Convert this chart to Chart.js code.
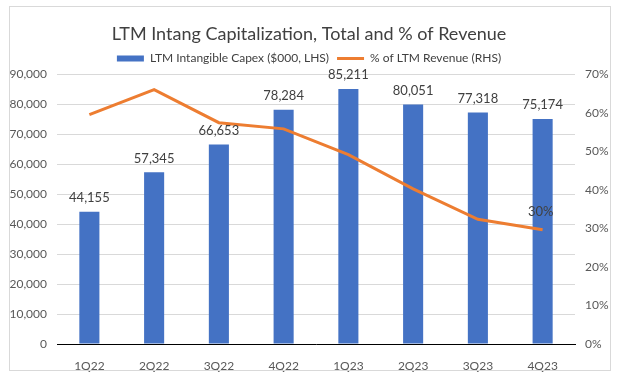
<!DOCTYPE html>
<html>
<head>
<meta charset="utf-8">
<script src="https://cdn.jsdelivr.net/npm/chart.js@4/dist/chart.umd.min.js"></script>
<style>
  html,body{margin:0;padding:0;background:#fff;}
  #c{position:absolute;left:0;top:0;}
  #frame{position:absolute;left:9px;top:6px;width:602px;height:365px;border:1px solid #d9d9d9;box-sizing:border-box;pointer-events:none;}
</style>
</head>
<body>
<canvas id="c" width="618" height="376"></canvas>
<div id="frame"></div>
<script>
const categories = ['1Q22','2Q22','3Q22','4Q22','1Q23','2Q23','3Q23','4Q23'];
const capexValues = [44155, 57345, 66653, 78284, 85211, 80051, 77318, 75174];
const pctRevenue = [0.596, 0.661, 0.575, 0.559, 0.492, 0.403, 0.324, 0.297];
const leftTicks = [0, 10000, 20000, 30000, 40000, 50000, 60000, 70000, 80000, 90000];
const rightTicks = [0, 0.1, 0.2, 0.3, 0.4, 0.5, 0.6, 0.7];
const seriesNames = ['LTM Intangible Capex ($000, LHS)', '% of LTM Revenue (RHS)'];

const FONT = 'Lato, "Liberation Sans", sans-serif';
const BLUE = '#4472c4';
const ORANGE = '#ed7d31';
const TEXT = '#404040';
const fmt = v => v.toLocaleString('en-US');
const pct = v => Math.round(v * 100) + '%';

const labelPlugin = {
  id: 'valueLabels',
  afterDatasetsDraw(chart) {
    const ctx = chart.ctx;
    ctx.save();
    ctx.font = '13px ' + FONT;
    ctx.fillStyle = TEXT;
    ctx.textAlign = 'center';
    ctx.textBaseline = 'middle';
    chart.getDatasetMeta(0).data.forEach((el, i) => {
      ctx.fillText(fmt(capexValues[i]), el.x, el.y - 14);
    });
    const lineMeta = chart.getDatasetMeta(1);
    const last = lineMeta.data.length - 1;
    const p = lineMeta.data[last];
    ctx.fillText(pct(pctRevenue[last]), p.x - 2, p.y - 18);
    ctx.restore();
  }
};

new Chart(document.getElementById('c'), {
  type: 'bar',
  data: {
    labels: categories,
    datasets: [
      {
        label: seriesNames[0],
        data: capexValues,
        backgroundColor: BLUE,
        borderWidth: 0,
        yAxisID: 'y',
        order: 2,
        barPercentage: 0.31,
        categoryPercentage: 1.0
      },
      {
        type: 'line',
        label: seriesNames[1],
        data: pctRevenue,
        borderColor: ORANGE,
        backgroundColor: ORANGE,
        borderWidth: 3,
        pointRadius: 0,
        tension: 0,
        yAxisID: 'y1',
        order: 1
      }
    ]
  },
  options: {
    responsive: false,
    animation: false,
    devicePixelRatio: 1,
    layout: { padding: 0 },
    plugins: {
      title: {
        display: true,
        text: 'LTM Intang Capitalization, Total and % of Revenue',
        color: TEXT,
        font: { family: FONT, size: 18, weight: 'normal' },
        padding: { top: 23, bottom: 0 }
      },
      legend: {
        display: true,
        position: 'top',
        labels: {
          color: TEXT,
          font: { family: FONT, size: 12 },
          usePointStyle: true,
          pointStyleWidth: 27,
          boxHeight: 6,
          padding: 8,
          generateLabels: () => [
            { text: seriesNames[0], fillStyle: BLUE, strokeStyle: BLUE, lineWidth: 0, pointStyle: 'rect', datasetIndex: 0, hidden: false, fontColor: TEXT },
            { text: seriesNames[1], fillStyle: ORANGE, strokeStyle: ORANGE, lineWidth: 3, pointStyle: 'line', datasetIndex: 1, hidden: false, fontColor: TEXT }
          ]
        }
      },
      tooltip: { enabled: false }
    },
    scales: {
      x: {
        grid: { display: false, drawTicks: false },
        border: { display: true, color: '#000000', width: 1 },
        ticks: { color: '#595959', font: { family: FONT, size: 12 }, padding: 15 },
        afterFit: axis => { axis.height = 32; }
      },
      y: {
        position: 'left',
        min: 0, max: 90000,
        afterBuildTicks: axis => { axis.ticks = leftTicks.map(v => ({ value: v })); },
        grid: { color: '#d9d9d9', drawTicks: false },
        border: { display: false },
        ticks: { color: '#595959', font: { family: FONT, size: 12 }, padding: 10, callback: v => fmt(v) },
        afterFit: axis => { axis.width = 57; }
      },
      y1: {
        position: 'right',
        min: 0, max: 0.7,
        afterBuildTicks: axis => { axis.ticks = rightTicks.map(v => ({ value: v })); },
        grid: { display: false, drawTicks: false },
        border: { display: false },
        ticks: { color: '#595959', font: { family: FONT, size: 12 }, padding: 10, callback: v => pct(v) },
        afterFit: axis => { axis.width = 43; }
      }
    }
  },
  plugins: [labelPlugin]
});
</script>
</body>
</html>
